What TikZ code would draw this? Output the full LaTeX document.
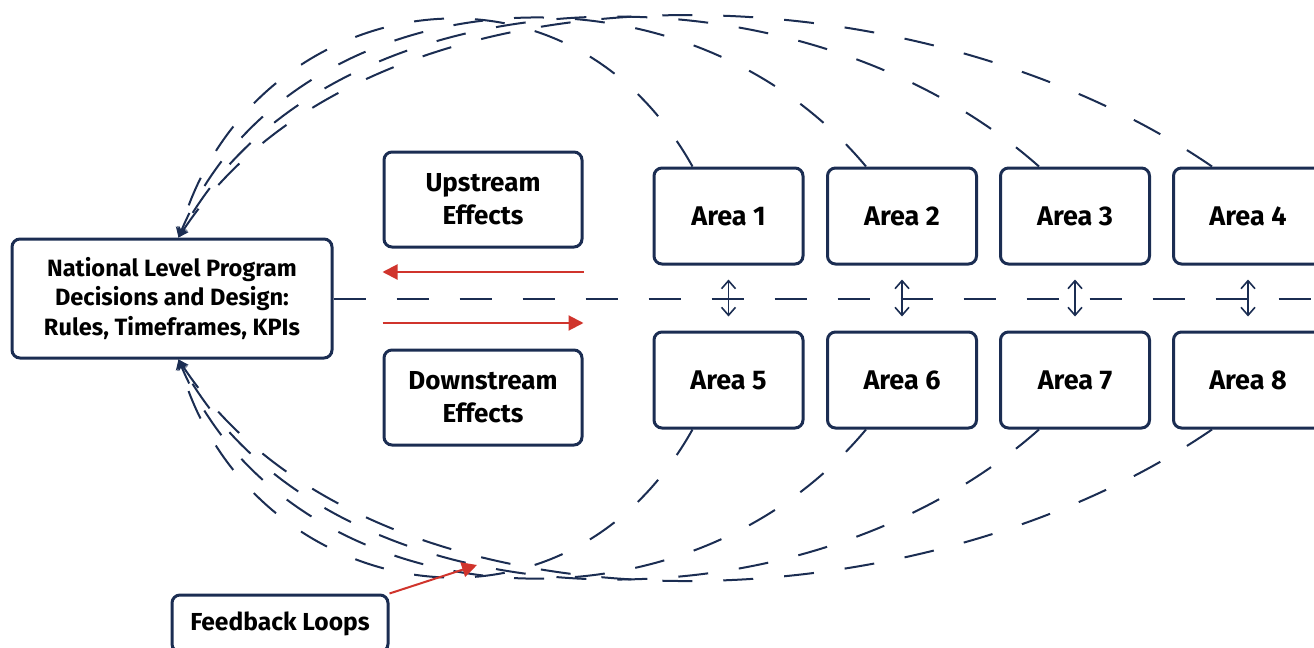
\documentclass[tikz,border=0pt]{standalone}
\usepackage{fontspec}
\setmainfont{Fira Sans}
\usetikzlibrary{arrows.meta}
\definecolor{navy}{HTML}{1B2D52}
\definecolor{accent}{HTML}{D0342C}

\begin{document}
\begin{tikzpicture}[x=0.5pt,y=-0.5pt,
  box/.style={draw=navy, line width=1.5pt, rounded corners=4pt, fill=white,
    align=center, inner sep=0pt, text=black},
  areabox/.style={box, minimum width=74.5pt, minimum height=48pt,
    font=\bfseries\fontsize{13.5}{16}\selectfont},
  effectbox/.style={box, minimum width=99pt, minimum height=47.5pt,
    font=\bfseries\fontsize{13}{16.3}\selectfont},
  loopline/.style={draw=navy, line width=1pt, dash pattern=on 15pt off 15.5pt,
    -{Stealth[length=5pt,width=5.5pt]}},
  hdash/.style={draw=navy, line width=1pt, dash pattern=on 16pt off 15.5pt},
  vlink/.style={draw=navy, line width=0.8pt, shorten >=7pt, shorten <=7pt,
    {Straight Barb[length=4pt,width=7pt]}-{Straight Barb[length=4pt,width=7pt]}},
  redarrow/.style={draw=accent, line width=1pt,
    -{Triangle[length=7.5pt,width=7.5pt]}}
]
\useasboundingbox (0,0) rectangle (1314,648);

% central decision box
\node[box, minimum width=160pt, minimum height=59.5pt,
  font=\bfseries\fontsize{11.8}{14.75}\selectfont] (nat) at (172,298.5)
  {National Level Program\\Decisions and Design:\\Rules, Timeframes, KPIs};

% upstream / downstream labels
\node[effectbox] (up) at (483,199.5) {Upstream\\Effects};
\node[effectbox] (down) at (483,397.5) {Downstream\\Effects};

% area grid
\node[areabox] (a1) at (728.5,216) {Area 1};
\node[areabox] (a2) at (902,216) {Area 2};
\node[areabox] (a3) at (1075,216) {Area 3};
\node[areabox] (a4) at (1248,216) {Area 4};
\node[areabox] (a5) at (728.5,380) {Area 5};
\node[areabox] (a6) at (902,380) {Area 6};
\node[areabox] (a7) at (1075,380) {Area 7};
\node[areabox] (a8) at (1248,380) {Area 8};

% feedback label
\node[box, minimum width=108pt, minimum height=28.5pt,
  font=\bfseries\fontsize{12.3}{15}\selectfont] (fb) at (280,623.5) {Feedback Loops};

% helper coordinates
\coordinate (rightedge) at (1314,297.5);
\coordinate (upperflow) at (0,272);
\coordinate (lowerflow) at (0,323);
\coordinate (fbtip) at (477,565);

% dashed divider
\draw[hdash] (nat.east) -- (nat.east -| rightedge);

% links between paired areas
\draw[vlink] (a1.south) -- (a5.north);
\draw[vlink] (a2.south) -- (a6.north);
\draw[vlink] (a3.south) -- (a7.north);
\draw[vlink] (a4.south) -- (a8.north);

% upstream / downstream flows
\draw[redarrow] (up.east |- upperflow) -- (up.west |- upperflow);
\draw[redarrow] (down.west |- lowerflow) -- (down.east |- lowerflow);

% feedback loops from the upper areas
\draw[loopline] ([xshift=20pt]a1.north west) .. controls (559,-72) and (245,-2) .. ([xshift=84pt]nat.north west);
\draw[loopline] ([xshift=20pt]a2.north west) .. controls (675,-62) and (285,-18) .. ([xshift=84pt]nat.north west);
\draw[loopline] ([xshift=20pt]a3.north west) .. controls (792,-52) and (325,-33) .. ([xshift=84pt]nat.north west);
\draw[loopline] ([xshift=20pt]a4.north west) .. controls (908,-42) and (365,-49) .. ([xshift=84pt]nat.north west);

% feedback loops from the lower areas
\draw[loopline] ([xshift=20pt]a5.south west) .. controls (559,668) and (245,598) .. ([xshift=84pt]nat.south west);
\draw[loopline] ([xshift=20pt]a6.south west) .. controls (675,658) and (285,614) .. ([xshift=84pt]nat.south west);
\draw[loopline] ([xshift=20pt]a7.south west) .. controls (792,648) and (325,629) .. ([xshift=84pt]nat.south west);
\draw[loopline] ([xshift=20pt]a8.south west) .. controls (908,638) and (365,645) .. ([xshift=84pt]nat.south west);

% pointer to the loops
\draw[redarrow] (fb.north east) -- (fbtip);
\end{tikzpicture}
\end{document}
